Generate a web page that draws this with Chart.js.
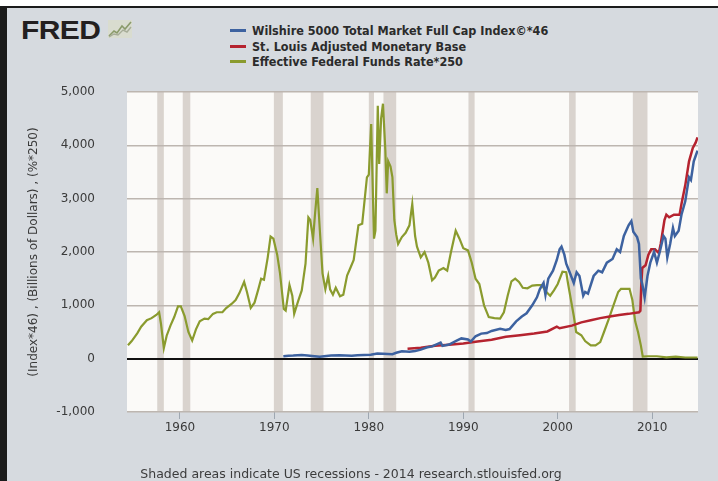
<!DOCTYPE html>
<html>
<head>
<meta charset="utf-8">
<script src="https://cdn.jsdelivr.net/npm/chart.js@4.4.1/dist/chart.umd.min.js"></script>
<style>
  html, body { margin: 0; padding: 0; background: #ffffff; }
  #frame {
    position: absolute; left: 0; top: 6px; width: 711px; height: 473px;
    background: #d6dadf; border-top: 2px solid #1b1b1b; border-left: 7px solid #1b1b1b;
  }
  #chartBox { position: absolute; left: 0; top: 0; width: 718px; height: 481px; }
  .logo { position: absolute; left: 21px; top: 16px; font: 900 25px "Liberation Sans", Arial, sans-serif;
    color: #231f20; letter-spacing: -0.5px; transform: scaleX(1.2); transform-origin: left top; }
  .logo-icon { position: absolute; left: 108px; top: 20px; }
  .legend { position: absolute; left: 230px; top: 23px; font: bold 12.5px "DejaVu Sans Condensed", "DejaVu Sans", sans-serif; color: #2b2b2b; }
  .legend div { height: 15.7px; line-height: 15.7px; white-space: nowrap; }
  .legend span { display: inline-block; width: 16px; height: 3px; vertical-align: middle; margin-right: 6px; position: relative; top: -1px; }
  .footer { position: absolute; left: 0; width: 702px; top: 466px; text-align: center;
    font: 12.5px "DejaVu Sans", sans-serif; color: #3c3c3c; }
</style>
</head>
<body>
<div id="frame"></div>
<div class="logo">FRED</div>
<svg class="logo-icon" width="24" height="18" viewBox="0 0 24 18">
  <rect x="0" y="0" width="24" height="18" fill="#d9dccf"/>
  <polyline points="1,16 6,11 9,13 14,6 17,9 23,2" fill="none" stroke="#8a9a6a" stroke-width="1.6"/>
  <polyline points="1,17 6,14 10,15 15,10 19,12 23,7" fill="none" stroke="#a7ad98" stroke-width="1.4"/>
</svg>
<div class="legend">
  <div><span style="background:#3d62a0"></span>Wilshire 5000 Total Market Full Cap Index©*46</div>
  <div><span style="background:#b5232f"></span>St. Louis Adjusted Monetary Base</div>
  <div><span style="background:#8a9b2e"></span>Effective Federal Funds Rate*250</div>
</div>
<div id="chartBox"><canvas id="chart" width="718" height="481"></canvas></div>
<div class="footer">Shaded areas indicate US recessions - 2014 research.stlouisfed.org</div>
<script>
// Effective Federal Funds Rate * 250
const fedYears = [1954.5, 1954.9, 1955.5, 1955.9, 1956.5, 1957.0, 1957.5, 1957.8, 1958.0, 1958.3, 1958.6, 1959.0, 1959.4, 1959.8, 1960.1, 1960.5, 1960.9, 1961.3, 1961.7, 1962.1, 1962.6, 1963.0, 1963.5, 1963.9, 1964.5, 1964.9, 1965.5, 1965.9, 1966.3, 1966.8, 1967.1, 1967.5, 1967.9, 1968.3, 1968.6, 1968.9, 1969.3, 1969.6, 1969.9, 1970.3, 1970.6, 1971.0, 1971.2, 1971.6, 1971.9, 1972.1, 1972.5, 1972.9, 1973.3, 1973.6, 1973.8, 1974.1, 1974.3, 1974.55, 1974.8, 1975.1, 1975.4, 1975.7, 1975.9, 1976.2, 1976.5, 1976.95, 1977.3, 1977.7, 1978.0, 1978.4, 1978.9, 1979.3, 1979.8, 1980.0, 1980.25, 1980.55, 1980.7, 1980.95, 1981.1, 1981.3, 1981.5, 1981.75, 1981.9, 1982.05, 1982.3, 1982.5, 1982.7, 1982.9, 1983.1, 1983.5, 1983.9, 1984.3, 1984.6, 1984.9, 1985.1, 1985.5, 1985.9, 1986.3, 1986.7, 1987.0, 1987.4, 1987.9, 1988.3, 1988.7, 1989.2, 1989.6, 1990.0, 1990.5, 1990.9, 1991.3, 1991.7, 1992.2, 1992.7, 1993.3, 1993.9, 1994.3, 1994.7, 1995.1, 1995.5, 1995.9, 1996.3, 1996.8, 1997.3, 1997.8, 1998.3, 1998.8, 1999.2, 1999.6, 2000.0, 2000.5, 2000.9, 2001.1, 2001.4, 2001.7, 2001.95, 2002.5, 2002.9, 2003.5, 2004.0, 2004.5, 2004.9, 2005.4, 2005.9, 2006.4, 2006.7, 2007.2, 2007.6, 2007.9, 2008.2, 2008.5, 2008.8, 2009.0, 2009.5, 2010.5, 2011.5, 2012.5, 2013.5, 2014.8];
const fedValues = [250, 330, 480, 600, 720, 760, 820, 870, 650, 200, 430, 620, 780, 980, 980, 800, 500, 340, 550, 700, 750, 740, 840, 870, 870, 950, 1030, 1100, 1230, 1440, 1250, 950, 1050, 1300, 1500, 1480, 1900, 2290, 2250, 1950, 1600, 930, 900, 1380, 1180, 840, 1070, 1280, 1780, 2650, 2600, 2250, 2700, 3200, 2450, 1600, 1300, 1550, 1300, 1200, 1330, 1170, 1200, 1560, 1680, 1850, 2500, 2530, 3400, 3450, 4400, 2250, 2400, 4740, 3650, 4500, 4780, 3900, 3100, 3700, 3600, 3400, 2600, 2330, 2150, 2280, 2360, 2500, 2900, 2300, 2100, 1900, 2000, 1800, 1470, 1520, 1650, 1700, 1650, 2000, 2400, 2250, 2070, 2030, 1800, 1500, 1400, 1000, 780, 760, 750, 870, 1180, 1450, 1500, 1440, 1330, 1320, 1370, 1380, 1380, 1250, 1180, 1280, 1400, 1630, 1620, 1400, 1100, 800, 500, 440, 330, 250, 250, 310, 500, 740, 1000, 1250, 1310, 1310, 1310, 1100, 700, 500, 250, 40, 45, 45, 25, 40, 22, 22];

// Wilshire 5000 Total Market Full Cap Index * 46
const wilYears = [1970.95, 1971.5, 1972.0, 1972.9, 1973.5, 1974.0, 1974.8, 1975.5, 1976.0, 1976.9, 1977.5, 1978.2, 1978.8, 1979.5, 1980.2, 1980.9, 1981.5, 1982.5, 1982.9, 1983.5, 1984.3, 1984.9, 1985.5, 1986.1, 1986.7, 1987.6, 1987.8, 1988.5, 1989.3, 1989.8, 1990.5, 1990.8, 1991.3, 1991.9, 1992.5, 1993.0, 1993.9, 1994.5, 1994.9, 1995.6, 1996.2, 1996.7, 1997.3, 1997.8, 1998.1, 1998.5, 1998.7, 1999.0, 1999.5, 1999.9, 2000.2, 2000.4, 2000.7, 2000.9, 2001.2, 2001.7, 2002.0, 2002.3, 2002.7, 2002.9, 2003.2, 2003.8, 2004.3, 2004.7, 2005.2, 2005.8, 2006.25, 2006.6, 2007.0, 2007.5, 2007.8, 2008.0, 2008.4, 2008.6, 2008.8, 2008.95, 2009.2, 2009.5, 2009.8, 2010.2, 2010.5, 2010.8, 2011.2, 2011.4, 2011.6, 2011.9, 2012.2, 2012.4, 2012.8, 2013.1, 2013.5, 2013.9, 2014.1, 2014.4, 2014.6, 2014.8];
const wilValues = [46, 55, 58, 70, 60, 52, 38, 50, 58, 62, 58, 55, 64, 70, 72, 95, 92, 85, 110, 140, 128, 145, 170, 210, 230, 300, 240, 265, 340, 380, 360, 320, 420, 470, 480, 520, 560, 540, 555, 700, 790, 850, 1000, 1150, 1300, 1420, 1200, 1500, 1650, 1850, 2050, 2100, 1950, 1780, 1650, 1420, 1620, 1550, 1180, 1250, 1220, 1550, 1650, 1620, 1800, 1870, 2050, 2000, 2300, 2500, 2580, 2380, 2280, 2150, 1500, 1400, 1150, 1550, 1800, 2000, 1800, 2000, 2300, 2250, 1900, 2150, 2450, 2300, 2400, 2700, 2950, 3400, 3350, 3700, 3800, 3900];

// St. Louis Adjusted Monetary Base (billions of dollars)
const baseYears = [1984.1, 1985.5, 1987.0, 1988.5, 1990.0, 1991.5, 1993.0, 1994.5, 1996.0, 1997.5, 1998.9, 1999.9, 2000.2, 2001.5, 2002.5, 2003.5, 2004.5, 2005.5, 2006.5, 2007.5, 2008.6, 2008.75, 2008.85, 2008.95, 2009.3, 2009.6, 2009.9, 2010.3, 2010.7, 2010.9, 2011.3, 2011.5, 2011.8, 2012.3, 2012.9, 2013.1, 2013.5, 2013.9, 2014.3, 2014.6, 2014.8];
const baseValues = [185, 205, 240, 260, 285, 320, 355, 410, 440, 470, 510, 600, 570, 620, 680, 720, 760, 790, 820, 840, 870, 900, 1400, 1700, 1750, 1950, 2050, 2050, 1980, 2150, 2600, 2700, 2650, 2700, 2700, 2900, 3250, 3700, 3950, 4050, 4150];

const recessionStarts = [1957.6, 1960.3, 1969.95, 1973.85, 1980.0, 1981.55, 1990.55, 2001.2, 2007.95];
const recessionEnds = [1958.3, 1961.1, 1970.9, 1975.2, 1980.55, 1982.9, 1991.2, 2001.9, 2009.5];
const xTickYears = [1960, 1970, 1980, 1990, 2000, 2010];

const toPoints = (xs, ys) => xs.map((x, i) => ({ x: x, y: ys[i] }));

const plotBackground = {
    id: 'plotBackground',
    beforeDraw(chart) {
        const { ctx, chartArea: a, scales: { x } } = chart;
        ctx.save();
        ctx.fillStyle = '#fbfaf8';
        ctx.fillRect(a.left, a.top, a.right - a.left, a.bottom - a.top);
        ctx.fillStyle = '#d9d3ce';
        recessionStarts.forEach((s, i) => {
            const x0 = x.getPixelForValue(s);
            const x1 = x.getPixelForValue(recessionEnds[i]);
            ctx.fillRect(x0, a.top, x1 - x0, a.bottom - a.top);
        });
        ctx.restore();
    }
};

new Chart(document.getElementById('chart'), {
    type: 'line',
    data: {
        datasets: [
            { label: 'Wilshire', data: toPoints(wilYears, wilValues), borderColor: '#3d62a0', borderWidth: 2.5, pointRadius: 0, tension: 0 },
            { label: 'Base', data: toPoints(baseYears, baseValues), borderColor: '#b5232f', borderWidth: 2.5, pointRadius: 0, tension: 0 },
            { label: 'Fed Funds', data: toPoints(fedYears, fedValues), borderColor: '#8a9b2e', borderWidth: 2.2, pointRadius: 0, tension: 0 }
        ]
    },
    options: {
        responsive: false,
        animation: false,
        layout: { padding: { left: 0, top: 92, right: 20, bottom: 39 } },
        plugins: { legend: { display: false }, tooltip: { enabled: false } },
        scales: {
            x: {
                type: 'linear', min: 1954.4, max: 2014.85,
                afterBuildTicks: scale => { scale.ticks = xTickYears.map(v => ({ value: v })); },
                afterFit: scale => { scale.height = 30; },
                ticks: { callback: v => String(v), color: '#3a3a3a', font: { family: 'DejaVu Sans', size: 12 }, padding: 2, maxRotation: 0 },
                grid: { drawOnChartArea: false, drawTicks: true, tickLength: 7, color: '#9ea7b1' },
                border: { display: false }
            },
            y: {
                min: -1000, max: 5000,
                afterFit: scale => { scale.width = 127; },
                ticks: { stepSize: 1000, callback: v => v.toLocaleString('en-US'), color: '#3a3a3a', font: { family: 'DejaVu Sans', size: 12 }, padding: 32 },
                grid: {
                    drawTicks: false,
                    color: c => c.tick && c.tick.value === 0 ? '#111111' : '#bdb6b0',
                    lineWidth: c => c.tick && c.tick.value === 0 ? 2 : 1.5
                },
                border: { display: false },
                title: { display: true, text: '(Index*46) , (Billions of Dollars) , (%*250)', color: '#3a3a3a', font: { family: 'DejaVu Sans', size: 12 }, padding: { top: 27, bottom: 0 } }
            }
        }
    },
    plugins: [plotBackground]
});
</script>
</body>
</html>
